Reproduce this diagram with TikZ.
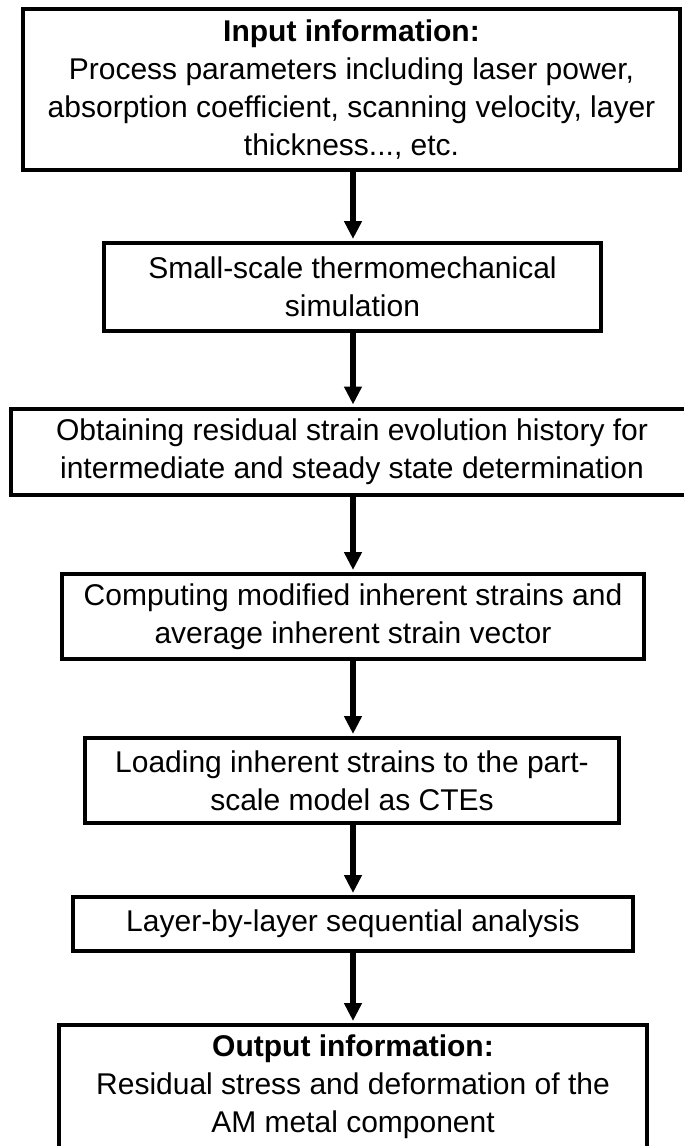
\documentclass[tikz,border=0pt]{standalone}
\usepackage{fontspec}
\setmainfont{Liberation Sans}
\usetikzlibrary{arrows.meta}
\tikzset{
  stage/.style={draw=black, line width=4pt, fill=white, inner sep=0pt,
    align=center, font=\fontsize{30}{38}\selectfont},
  flow/.style={line width=6pt, draw=black,
    -{Triangle[length=18pt, width=17pt]}, shorten >=2pt}
}
\begin{document}
\begin{tikzpicture}[x=1pt, y=-1pt]
  \useasboundingbox (0,0) rectangle (684,1146);
  \clip (0,0) rectangle (684,1146);
  \fill[white] (0,0) rectangle (684,1146);

  % column on which all arrows run
  \coordinate (ax) at (353,0);

  \node[stage, minimum width=657pt, minimum height=161pt] (b1) at (351.5,89.5)
    {\textbf{Input information:}\\
     Process parameters including laser power,\\
     absorption coefficient, scanning velocity, layer\\
     thickness..., etc.};

  \node[stage, minimum width=497pt, minimum height=88pt] (b2) at (352.5,287)
    {Small-scale thermomechanical\\ simulation};

  \node[stage, minimum width=682pt, minimum height=86pt] (b3) at (352,451.5)
    {Obtaining residual strain evolution history for\\
     intermediate and steady state determination};

  \node[stage, minimum width=582pt, minimum height=85pt] (b4) at (353,616.5)
    {Computing modified inherent strains and\\
     average inherent strain vector};

  \node[stage, minimum width=534pt, minimum height=85pt] (b5) at (352,780.5)
    {Loading inherent strains to the part-\\ scale model as CTEs};

  \node[stage, minimum width=560pt, minimum height=54pt] (b6) at (353,924)
    {Layer-by-layer sequential analysis};

  \node[stage, minimum width=588pt, minimum height=123pt] (b7) at (353,1086.5)
    {\textbf{Output information:}\\
     Residual stress and deformation of the\\
     AM metal component};

  \draw[flow] (b1.south -| ax) -- (b2.north -| ax);
  \draw[flow] (b2.south -| ax) -- (b3.north -| ax);
  \draw[flow] (b3.south -| ax) -- (b4.north -| ax);
  \draw[flow] (b4.south -| ax) -- (b5.north -| ax);
  \draw[flow] (b5.south -| ax) -- (b6.north -| ax);
  \draw[flow] (b6.south -| ax) -- (b7.north -| ax);
\end{tikzpicture}
\end{document}
